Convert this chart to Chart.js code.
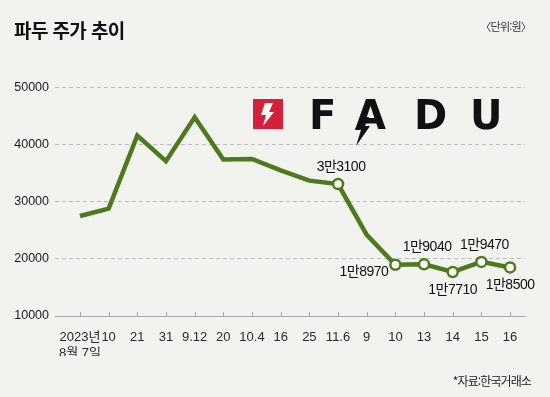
<!DOCTYPE html>
<html lang="ko">
<head>
<meta charset="utf-8">
<script src="https://cdn.jsdelivr.net/npm/chart.js@4"></script>
<style>
  html, body { margin: 0; padding: 0; background: #f2f3ee; }
  #wrap { position: relative; width: 550px; height: 397px; overflow: hidden; font-family: "Liberation Sans", "Noto Sans CJK KR", sans-serif; }
  #chart { position: absolute; left: 0; top: 0; }
  .title { position: absolute; left: 14px; top: 16px; font: bold 19px "Noto Sans CJK KR", sans-serif; letter-spacing: -0.6px; color: #111; }
  .unit { position: absolute; right: 19px; top: 18px; font: 11px "Noto Sans CJK KR", sans-serif; letter-spacing: -0.8px; color: #333; }
  .source { position: absolute; right: 19px; top: 372px; font: 12px "Noto Sans CJK KR", sans-serif; letter-spacing: -0.9px; color: #222; }
  .logo-box { position: absolute; left: 253px; top: 99px; }
  .logo-letter { position: absolute; top: 95px; font: bold 40px "DejaVu Sans", sans-serif; color: #111; line-height: 1; }
</style>
</head>
<body>
<div id="wrap">
  <canvas id="chart" width="550" height="397"></canvas>
  <div class="title">파두 주가 추이</div>
  <div class="unit">〈단위:원〉</div>
  <div class="source">*자료:한국거래소</div>
  <svg class="logo-box" width="30" height="30" viewBox="0 0 30 30">
    <rect width="30" height="30" fill="#d3213a"/>
    <polygon points="12,4 20,4 16,13 21,13 10,27 13,16 8,16" fill="#fff"/>
  </svg>
  <span class="logo-letter" style="left:309px">F</span>
  <span class="logo-letter" style="left:355px">A</span>
  <svg style="position:absolute;left:352px;top:117px" width="20" height="30" viewBox="0 0 20 30">
    <polygon points="9,0 17,0 13,9 18,9 4,29 9,13 3,13" fill="#111"/>
  </svg>
  <span class="logo-letter" style="left:414px">D</span>
  <span class="logo-letter" style="left:470px">U</span>
</div>
<script>
  // 날짜 라벨 (2023년 8월 7일 ~ 11월 16일)
  const dateLabels = [['2023년', '8월 7일'], '10', '21', '31', '9.12', '20', '10.4', '16', '25', '11.6', '9', '10', '13', '14', '15', '16'];
  // 종가 (원)
  const prices = [27500, 28800, 41600, 37100, 44800, 37400, 37500, 35500, 33700, 33100, 24200, 18970, 19040, 17710, 19470, 18500];
  // 값 표시할 지점
  const markedIdx = [9, 11, 12, 13, 14, 15];
  const yTicks = [10000, 20000, 30000, 40000, 50000];

  const green = '#4d7a1c';

  function fmtMan(v) {
    return Math.floor(v / 10000) + '만' + String(v % 10000).padStart(4, '0');
  }

  // x축 위쪽으로 짧은 눈금
  const tickMarks = {
    id: 'tickMarks',
    beforeDatasetsDraw(chart) {
      const ctx = chart.ctx;
      const x = chart.scales.x;
      const yb = chart.chartArea.bottom;
      ctx.save();
      ctx.strokeStyle = '#aaa';
      ctx.lineWidth = 1;
      dateLabels.forEach((_, i) => {
        const px = Math.round(x.getPixelForValue(i)) + 0.5;
        ctx.beginPath();
        ctx.moveTo(px, yb);
        ctx.lineTo(px, yb - 4);
        ctx.stroke();
      });
      ctx.restore();
    }
  };

  const placement = { 9: 'above', 11: 'left', 12: 'above', 13: 'below', 14: 'above', 15: 'below' };

  const valueLabels = {
    id: 'valueLabels',
    afterDatasetsDraw(chart) {
      const ctx = chart.ctx;
      const meta = chart.getDatasetMeta(0);
      ctx.save();
      ctx.font = '14px "Liberation Sans", "Noto Sans CJK KR", sans-serif';
      ctx.fillStyle = '#111';
      ctx.textBaseline = 'middle';
      if ('letterSpacing' in ctx) ctx.letterSpacing = '-0.5px';
      markedIdx.forEach(i => {
        const pt = meta.data[i];
        const txt = fmtMan(prices[i]);
        const pos = placement[i];
        if (pos === 'left') {
          ctx.textAlign = 'right';
          ctx.fillText(txt, pt.x - 7, pt.y + 7);
        } else if (pos === 'below') {
          ctx.textAlign = 'center';
          ctx.fillText(txt, pt.x, pt.y + 18);
        } else {
          ctx.textAlign = 'center';
          ctx.fillText(txt, pt.x + 3, pt.y - 17);
        }
      });
      ctx.restore();
    }
  };

  new Chart(document.getElementById('chart'), {
    type: 'line',
    data: {
      datasets: [{
        data: prices.map((v, i) => ({ x: i, y: v })),
        borderColor: green,
        borderWidth: 4.5,
        borderJoinStyle: 'miter',
        tension: 0,
        pointRadius: prices.map((_, i) => markedIdx.includes(i) ? 5 : 0),
        pointBackgroundColor: '#fff',
        pointBorderColor: green,
        pointBorderWidth: 2.5,
        clip: false
      }]
    },
    options: {
      responsive: false,
      animation: false,
      events: [],
      layout: { padding: { top: 87.5, right: 25, bottom: 41, left: 0 } },
      plugins: { legend: { display: false }, tooltip: { enabled: false } },
      scales: {
        x: {
          type: 'linear',
          min: -0.87,
          max: 15.52,
          afterFit(scale) { scale.height = 40; },
          grid: { display: false },
          border: { display: true, color: '#aaa', width: 1 },
          ticks: {
            stepSize: 1,
            includeBounds: false,
            autoSkip: false,
            maxRotation: 0,
            minRotation: 0,
            padding: 6,
            color: '#2a2a2a',
            font: { family: '"Liberation Sans", "Noto Sans CJK KR", sans-serif', size: 13 },
            callback: v => Number.isInteger(v) ? dateLabels[v] : null
          }
        },
        y: {
          min: 10000,
          max: 50000,
          afterFit(scale) { scale.width = 55; },
          afterBuildTicks(scale) { scale.ticks = yTicks.map(v => ({ value: v })); },
          border: { display: false, dash: [4, 3] },
          grid: {
            color: c => c.tick && c.tick.value === 10000 ? 'rgba(0,0,0,0)' : '#bdbdbd',
            lineWidth: 1,
            drawTicks: false
          },
          ticks: {
            padding: 6,
            color: '#1a1a1a',
            font: { family: '"Liberation Sans", sans-serif', size: 12.5 },
            callback: v => String(v)
          }
        }
      }
    },
    plugins: [tickMarks, valueLabels]
  });
</script>
</body>
</html>
